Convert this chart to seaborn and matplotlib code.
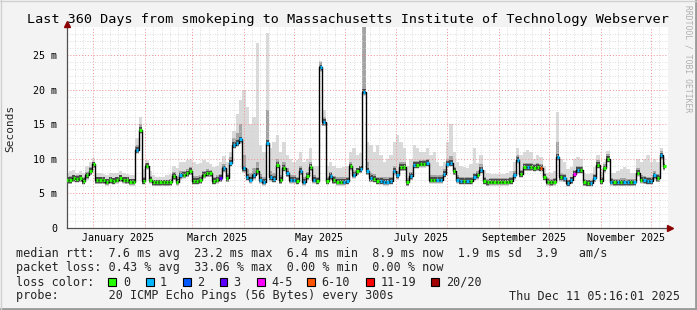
import numpy as np
import pandas as pd
import seaborn as sns
import matplotlib
matplotlib.use("Agg")
import matplotlib.pyplot as plt
from matplotlib.patches import Rectangle
from matplotlib.lines import Line2D

# ---------------- data (one sample every 2 days, 360 days ending now) ----------------
now = pd.Timestamp("2025-12-11 05:16:01")
span_days = 360
step_days = 2

median_ms = [
    6.9, 6.9, 7.2, 7.1, 7.2, 6.8, 7.6, 8.2, 9.2, 6.9,
    6.9, 6.9, 6.7, 6.9, 6.8, 7.0, 7.2, 7.0, 6.9, 6.7,
    6.7, 11.3, 14.2, 6.8, 9.0, 7.0, 6.6, 6.6, 6.6, 6.6,
    6.6, 6.6, 7.5, 6.7, 7.6, 7.7, 7.9, 8.2, 6.8, 6.8,
    6.9, 7.7, 7.9, 7.9, 6.8, 7.0, 7.2, 8.6, 7.2, 9.4,
    12.0, 12.3, 12.8, 8.6, 7.4, 7.0, 7.6, 8.2, 7.0, 6.7,
    12.3, 7.3, 7.1, 9.1, 6.9, 8.7, 7.9, 7.0, 7.0, 6.8,
    8.2, 6.7, 7.5, 8.8, 7.0, 6.8, 23.2, 15.3, 6.8, 7.5,
    6.9, 6.7, 6.7, 6.7, 6.8, 8.9, 7.7, 8.2, 8.5, 19.7,
    8.2, 7.2, 7.1, 6.8, 6.8, 6.7, 6.7, 6.8, 8.3, 7.6,
    8.8, 8.8, 6.6, 7.5, 9.1, 9.1, 9.3, 9.3, 9.4, 7.0,
    7.0, 7.0, 7.0, 7.8, 9.3, 9.4, 8.2, 7.0, 6.8, 6.8,
    6.8, 6.8, 7.4, 7.6, 8.4, 6.8, 6.6, 6.7, 6.7, 6.7,
    6.7, 6.7, 6.7, 6.8, 7.6, 9.9, 7.8, 8.8, 8.8, 8.8,
    8.7, 8.8, 8.7, 7.4, 6.7, 6.6, 6.7, 10.3, 7.3, 7.2,
    6.5, 6.9, 7.8, 8.4, 8.4, 6.6, 6.5, 6.5, 7.2, 9.1,
    6.8, 8.6, 10.0, 6.7, 6.6, 6.6, 6.6, 6.6, 6.6, 6.6,
    6.6, 8.0, 7.0, 6.9, 6.8, 6.8, 7.6, 7.2, 10.5, 8.9,
]

smoke_mid_ms = [
    7.4, 7.5, 7.7, 7.6, 7.7, 7.3, 8.1, 8.8, 9.6, 7.4,
    7.3, 7.3, 7.1, 7.3, 7.2, 7.4, 7.6, 7.4, 7.3, 7.1,
    7.1, 12.0, 15.0, 7.4, 9.4, 7.5, 7.0, 7.0, 7.0, 7.0,
    7.0, 7.1, 8.1, 7.3, 8.2, 8.3, 8.5, 8.8, 7.5, 7.5,
    7.6, 8.3, 8.5, 8.4, 7.4, 7.6, 7.8, 9.3, 7.9, 10.2,
    13.0, 13.8, 15.0, 10.5, 8.5, 8.0, 8.6, 9.5, 7.8, 7.4,
    17.0, 8.3, 8.0, 10.0, 7.6, 9.5, 8.6, 7.6, 7.6, 7.4,
    9.0, 7.3, 8.1, 9.5, 7.6, 7.4, 24.0, 16.0, 7.4, 8.1,
    7.5, 7.3, 7.3, 7.3, 7.4, 9.6, 8.4, 8.7, 9.0, 29.0,
    9.5, 8.0, 7.8, 7.4, 7.4, 7.3, 7.3, 7.4, 9.0, 8.3,
    9.5, 9.5, 7.2, 8.1, 9.7, 9.7, 9.9, 9.9, 10.0, 7.6,
    7.6, 7.6, 7.6, 8.5, 10.0, 10.4, 8.8, 7.6, 7.4, 7.4,
    7.4, 7.4, 8.0, 8.3, 9.2, 7.3, 7.1, 7.2, 7.2, 7.2,
    7.2, 7.2, 7.2, 7.3, 8.2, 10.6, 8.4, 9.4, 9.4, 9.4,
    9.3, 9.4, 9.3, 8.0, 7.2, 7.1, 7.2, 12.5, 7.9, 7.8,
    7.0, 7.4, 8.4, 9.0, 9.0, 7.1, 7.0, 7.0, 7.8, 9.8,
    7.3, 9.2, 10.7, 7.2, 7.1, 7.1, 7.2, 7.2, 7.1, 7.1,
    7.1, 8.7, 7.6, 7.5, 7.4, 7.4, 8.2, 7.8, 11.2, 9.6,
]

smoke_hi_ms = [
    8.0, 8.2, 8.4, 8.0, 8.3, 8.0, 8.9, 9.6, 10.1, 8.0,
    7.9, 7.8, 7.7, 8.0, 7.9, 8.0, 8.2, 8.0, 7.8, 7.6,
    7.6, 13.0, 16.1, 8.5, 9.8, 8.2, 7.6, 7.4, 7.4, 7.4,
    7.6, 7.8, 9.0, 8.6, 9.5, 9.6, 9.8, 10.0, 9.6, 9.2,
    9.4, 9.8, 9.6, 9.2, 8.8, 9.0, 9.6, 10.4, 9.6, 11.0,
    14.0, 16.5, 18.5, 20.0, 17.5, 15.0, 16.0, 26.8, 12.0, 11.0,
    28.2, 11.5, 12.5, 13.5, 11.0, 12.5, 10.5, 10.0, 9.5, 9.8,
    11.0, 9.5, 10.0, 11.5, 9.0, 9.0, 24.1, 17.0, 9.0, 9.5,
    9.0, 8.6, 8.6, 8.8, 9.0, 11.0, 11.5, 10.5, 10.8, 29.0,
    12.5, 12.0, 11.0, 12.0, 10.5, 9.5, 10.0, 10.5, 12.5, 13.5,
    12.5, 11.5, 9.0, 10.0, 12.0, 11.5, 11.0, 11.0, 11.5, 10.5,
    11.0, 9.5, 9.0, 9.5, 12.5, 15.0, 11.0, 9.5, 9.0, 8.8,
    8.6, 9.2, 11.5, 9.4, 10.5, 8.4, 8.0, 7.8, 7.8, 7.8,
    7.8, 7.8, 8.0, 8.2, 9.5, 11.5, 10.5, 11.0, 11.3, 11.0,
    10.0, 10.5, 10.2, 9.0, 8.0, 8.0, 8.3, 16.8, 10.0, 9.5,
    8.5, 8.8, 10.0, 10.2, 10.0, 8.0, 7.8, 8.0, 8.8, 10.6,
    8.0, 9.5, 11.2, 8.0, 8.0, 8.2, 8.5, 8.8, 8.5, 8.0,
    8.0, 10.0, 9.5, 10.0, 10.5, 9.5, 10.0, 9.5, 11.6, 10.2,
]

# loss bucket per sample (index into loss_labels)
loss_bucket = [int(c) for c in (
    "00000" "00000" "00000" "00000" "01000" "00000" "00001" "00000" "00000" "03101"
    "11111" "11011" "11100" "01110" "11001" "01101" "00011" "01011" "11001" "11111"
    "00011" "00010" "01111" "10110" "10101" "00000" "00001" "10010" "00500" "00101"
    "11410" "00110" "00010" "10110" "10011" "11010"
)]

loss_labels = ["0", "1", "2", "3", "4-5", "6-10", "11-19", "20/20"]
loss_colors = ["#26ff00", "#00b8ff", "#0059ff", "#5e00ff", "#ff00ff", "#ff5500", "#ff0000", "#a10000"]

month_labels = ["January 2025", "March 2025", "May 2025", "July 2025",
                "September 2025", "November 2025"]

stats_lines = [
    "median rtt:  7.6 ms avg  23.2 ms max  6.4 ms min  8.9 ms now  1.9 ms sd  3.9   am/s",
    "packet loss: 0.43 % avg  33.06 % max  0.00 % min  0.00 % now",
]
probe_line = "probe:       20 ICMP Echo Pings (56 Bytes) every 300s"
stamp_text = "Thu Dec 11 05:16:01 2025"
title_text = "Last 360 Days from smokeping to Massachusetts Institute of Technology Webserver"

# ---------------- derived frame ----------------
start = now - pd.Timedelta(days=span_days)
sample_times = pd.date_range(start, periods=len(median_ms), freq=f"{step_days}D")
x = ((sample_times - start) / pd.Timedelta(days=1)).to_numpy()
med = np.array(median_ms)
df = pd.DataFrame({"day": x, "median": med,
                   "mid": smoke_mid_ms, "hi": smoke_hi_ms,
                   "loss": [loss_labels[b] for b in loss_bucket]})

def day_of(ts):
    return (pd.Timestamp(ts) - start) / pd.Timedelta(days=1)

# ---------------- figure ----------------
W, H = 697, 310
sns.set_theme(style="white")
plt.rcParams["font.family"] = ["DejaVu Sans Mono"]
fig = plt.figure(figsize=(W / 100, H / 100), dpi=100)
fig.patch.set_facecolor("#f3f3f3")

def fx(px):
    return px / W

def fy(py):
    return 1 - py / H

ax = fig.add_axes([fx(67), fy(228), (668 - 67) / W, (228 - 27) / H])
ax.set_facecolor("white")
ax.set_xlim(0, span_days)
ax.set_ylim(0, 29.05)

# smoke
ax.fill_between(df["day"], df["median"] - 0.6, df["hi"], step="mid", color="#dadada", lw=0, zorder=1)
ax.fill_between(df["day"], df["median"] - 0.5, df["mid"], step="mid", color="#a4a4a4", lw=0, zorder=1.2)
ax.fill_between(df["day"], df["median"] - 0.4, df["median"] + 0.4, step="mid", color="#4a4a4a", lw=0, zorder=1.4)

# grid (drawn over the smoke, like rrdtool)
for v in range(1, 29):
    if v % 5:
        ax.axhline(v, color="#d2d2d2", lw=0.6, ls=(0, (1, 2)), zorder=2)
for v in range(5, 29, 5):
    ax.axhline(v, color="#f09090", lw=0.7, ls=(0, (1, 2)), zorder=2.1)

month_starts = pd.date_range("2025-01-01", "2025-12-01", freq="MS")
minor_days = []
for m in pd.date_range("2024-12-01", "2025-12-01", freq="MS"):
    for d in (6, 11, 16, 21, 26):
        minor_days.append(day_of(m + pd.Timedelta(days=d - 1)))
for d in minor_days:
    if 0 < d < span_days:
        ax.axvline(d, color="#d2d2d2", lw=0.6, ls=(0, (1, 2)), zorder=2)
major_days = [day_of(m) for m in month_starts]
for d in major_days:
    ax.axvline(d, color="#f09090", lw=0.7, ls=(0, (1, 2)), zorder=2.1)

# median line (black, stepped) and loss-coloured segments
sns.lineplot(data=df, x="day", y="median", drawstyle="steps-mid", color="black",
             lw=1.0, ax=ax, zorder=4, estimator=None, sort=True)
ax.hlines(df["median"], df["day"] - 0.7, df["day"] + 0.7,
          colors=[loss_colors[b] for b in loss_bucket], lw=2.3, zorder=5)

ax.set_xlabel("")
ax.set_ylabel("")

# axes / ticks
for s in ("top", "right"):
    ax.spines[s].set_visible(False)
for s in ("left", "bottom"):
    ax.spines[s].set_color("#505050")
    ax.spines[s].set_linewidth(0.9)
ax.set_yticks([0, 5, 10, 15, 20, 25])
ax.set_yticklabels(["0", "5 m", "10 m", "15 m", "20 m", "25 m"])
ax.tick_params(axis="y", length=3, width=0.8, color="#505050", pad=4, labelsize=7.2, labelcolor="black")
ax.set_xticks(major_days)
ax.set_xticklabels([""] * len(major_days))
label_days = [day_of(f"2025-{m:02d}-16") for m in (1, 3, 5, 7, 9, 11)]
ax.set_xticks(label_days, minor=True)
ax.set_xticklabels(month_labels, minor=True)
ax.tick_params(axis="x", which="major", length=3, width=0.8, color="#505050")
ax.tick_params(axis="x", which="minor", length=0, pad=3.5, labelsize=7.2, labelcolor="black")

# axis arrows
ax.plot([1.004], [0], marker=">", ms=5, color="#8b0000", transform=ax.transAxes, clip_on=False, zorder=6)
ax.plot([0], [1.015], marker="^", ms=5, color="#8b0000", transform=ax.transAxes, clip_on=False, zorder=6)
ax.plot([1.0, 1.004], [0, 0], color="#505050", lw=0.9, transform=ax.transAxes, clip_on=False)

# texts
fig.text(fx(348), fy(19), title_text, ha="center", va="center", fontsize=9.7, color="black")
fig.text(fx(10), fy(128), "Seconds", rotation=90, ha="center", va="center", fontsize=8.0)
fig.text(fx(688), fy(59), "RRDTOOL / TOBI OETIKER", rotation=270, ha="center", va="center",
         fontsize=5.8, color="#b0b0b0")

fs = 8.5
fig.text(fx(16), fy(254), stats_lines[0], ha="left", va="center", fontsize=fs)
fig.text(fx(16), fy(268), stats_lines[1], ha="left", va="center", fontsize=fs)
fig.text(fx(16), fy(282), "loss color:", ha="left", va="center", fontsize=fs)
fig.text(fx(16), fy(296), probe_line, ha="left", va="center", fontsize=fs)
fig.text(fx(680), fy(296), stamp_text, ha="right", va="center", fontsize=fs)

box_x = [108, 146, 183, 220, 257, 307, 366, 431]
lab_x = [123, 160, 197, 233, 271, 321, 381, 446]
for bx, lx, lab, col in zip(box_x, lab_x, loss_labels, loss_colors):
    fig.add_artist(Rectangle((fx(bx), fy(286)), 7.5 / W, 8 / H, transform=fig.transFigure,
                             facecolor=col, edgecolor="black", lw=0.8))
    fig.text(fx(lx), fy(282), lab, ha="left", va="center", fontsize=fs)

# frame shading
fig.add_artist(Line2D([0, 1], [fy(309), fy(309)], transform=fig.transFigure, color="#9a9a9a", lw=2))
fig.add_artist(Line2D([fx(696), fx(696)], [0, 1], transform=fig.transFigure, color="#9a9a9a", lw=2))
fig.add_artist(Line2D([0, 1], [fy(0.5), fy(0.5)], transform=fig.transFigure, color="#d0d0d0", lw=1))
fig.add_artist(Line2D([fx(0.5), fx(0.5)], [0, 1], transform=fig.transFigure, color="#d0d0d0", lw=1))

fig.savefig("out.png", dpi=100, facecolor=fig.get_facecolor())
